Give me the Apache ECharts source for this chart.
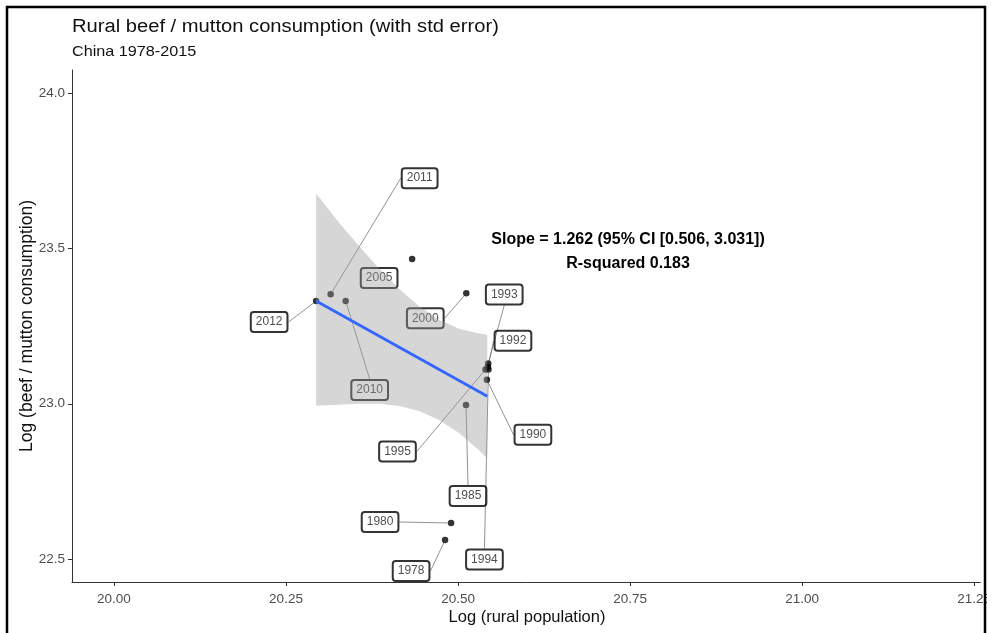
<!DOCTYPE html>
<html>
<head>
<meta charset="utf-8">
<script src="https://cdn.jsdelivr.net/npm/echarts@6/dist/echarts.min.js"></script>
<style>
html,body{margin:0;padding:0;background:#fff;}
#chart{width:994px;height:633px;}
</style>
</head>
<body>
<div id="chart"></div>
<script>
// ---- data ----
const years   = ['2012','2011','2010','2005','2000','1993','1992','1995','1994','1990','1985','1980','1978'];
const logPop  = [20.2938, 20.3149, 20.3367, 20.4333, 20.5120, 20.5439, 20.5435, 20.5399, 20.5442, 20.5420, 20.5116, 20.4899, 20.4812];
const logCons = [23.331, 23.353, 23.331, 23.4665, 23.356, 23.130, 23.119, 23.1105, 23.1105, 23.077, 22.996, 22.616, 22.561];

// regression line (endpoints) and std-error band
const fitX = [20.2938, 20.5425];
const fitY = [23.331, 23.024];
const bandX  = [20.2938, 20.3275, 20.3565, 20.3855, 20.4145, 20.4435, 20.4725, 20.5014, 20.5304, 20.5425];
const bandHi = [23.677, 23.582, 23.507, 23.435, 23.370, 23.314, 23.271, 23.242, 23.226, 23.222];
const bandLo = [22.994, 22.997, 23.000, 23.000, 22.993, 22.977, 22.948, 22.906, 22.850, 22.824];

const xTicks = [20.00, 20.25, 20.50, 20.75, 21.00, 21.25];
const yTicks = [22.5, 23.0, 23.5, 24.0];

const titleText = 'Rural beef / mutton consumption (with std error)';
const subtitleText = 'China 1978-2015';
const xName = 'Log (rural population)';
const yName = 'Log (beef / mutton consumption)';
const note1 = 'Slope = 1.262 (95% CI [0.506, 3.031])';
const note2 = 'R-squared 0.183';

// label placement (pixel offsets from point, layout only)
const labelOffsets = [[-47,21],[89,-116],[24,89],[-33,19],[-41,25],[16,-69],[25,-26],[-88,82],[-4,190],[46,55],[2,91],[-71,-1],[-34,31]];
const noSegment = ['2005'];

const chart = echarts.init(document.getElementById('chart'), null, {renderer:'canvas'});

const pts = years.map((y,i)=>({
  value:[logPop[i], logCons[i]],
  name:y,
  labelLine:{show: noSegment.indexOf(y) < 0}
}));

const font = 'Liberation Sans, Arial, sans-serif';

chart.setOption({
  animation:false,
  backgroundColor:'#fff',
  grid:{left:72, right:12, top:70, bottom:51, containLabel:false},
  xAxis:{
    type:'value', min:19.939, max:21.259,
    axisLine:{show:true, onZero:false, lineStyle:{color:'#333', width:1}},
    axisTick:{show:true, customValues:xTicks, length:4, lineStyle:{color:'#333'}},
    axisLabel:{customValues:xTicks, formatter:v=>v.toFixed(2), color:'#4d4d4d', fontSize:13.5, fontFamily:font, margin:10},
    splitLine:{show:false}
  },
  yAxis:{
    type:'value', min:22.426, max:24.075,
    axisLine:{show:true, onZero:false, lineStyle:{color:'#333', width:1}},
    axisTick:{show:true, customValues:yTicks, length:4, lineStyle:{color:'#333'}},
    axisLabel:{customValues:yTicks, formatter:v=>v.toFixed(1), color:'#4d4d4d', fontSize:13.5, fontFamily:font, margin:7},
    splitLine:{show:false}
  },
  series:[
    {
      type:'scatter', z:2,
      symbol:'circle', symbolSize:6.5,
      itemStyle:{color:'#000'},
      data:pts,
      label:{
        show:true, position:'inside', formatter:p=>p.name,
        color:'#222', fontSize:12, lineHeight:13, fontFamily:font,
        backgroundColor:'rgba(255,255,255,0)', borderColor:'#000', borderWidth:1, borderRadius:3,
        padding:[4,5,3,5]
      },
      labelLayout:function(p){ const o = labelOffsets[p.dataIndex]; return {dx:o[0], dy:o[1]}; },
      labelLine:{show:true, lineStyle:{color:'#777', width:0.8}},
      emphasis:{disabled:true}
    },
    {
      type:'custom', z:5, silent:true,
      data: bandX.map((x,i)=>[x, bandLo[i], bandHi[i]]),
      encode:{x:0, y:[1,2]},
      renderItem:function(params, api){
        if (params.dataIndex !== 0) return null;
        const poly = [];
        for (let i=0;i<bandX.length;i++) poly.push(api.coord([bandX[i], bandHi[i]]));
        for (let i=bandX.length-1;i>=0;i--) poly.push(api.coord([bandX[i], bandLo[i]]));
        return {type:'polygon', shape:{points:poly}, style:{fill:'rgba(153,153,153,0.4)'}};
      }
    },
    {
      type:'line', z:6, silent:true,
      data: fitX.map((x,i)=>[x, fitY[i]]),
      symbol:'none',
      lineStyle:{color:'#3366FF', width:2.8}
    }
  ],
  graphic:[
    {type:'text', x:72, y:27, scaleX:1.12, z:10, style:{text:titleText, fontSize:18, fontFamily:font, fill:'#111', verticalAlign:'middle'}},
    {type:'text', x:72, y:52, scaleX:1.08, z:10, style:{text:subtitleText, fontSize:15, fontFamily:font, fill:'#111', verticalAlign:'middle'}},
    {type:'text', x:628, y:240, z:10, style:{text:note1, fontSize:16, fontWeight:'bold', fontFamily:font, fill:'#000', align:'center', verticalAlign:'middle'}},
    {type:'text', x:628, y:264, z:10, style:{text:note2, fontSize:16, fontWeight:'bold', fontFamily:font, fill:'#000', align:'center', verticalAlign:'middle'}},
    {type:'text', x:527, y:617, z:10, style:{text:xName, fontSize:16.5, fontFamily:font, fill:'#111', align:'center', verticalAlign:'middle'}},
    {type:'text', x:27, y:326, rotation:Math.PI/2, z:10, style:{text:yName, fontSize:17.5, fontFamily:font, fill:'#111', align:'center', verticalAlign:'middle'}},
    {type:'rect', z:20, silent:true, shape:{x:987, y:0, width:7, height:633}, style:{fill:'#fff'}},
    {type:'rect', z:21, silent:true, shape:{x:7, y:7, width:978, height:640}, style:{fill:'none', stroke:'#000', lineWidth:2.5}}
  ]
});
</script>
</body>
</html>
